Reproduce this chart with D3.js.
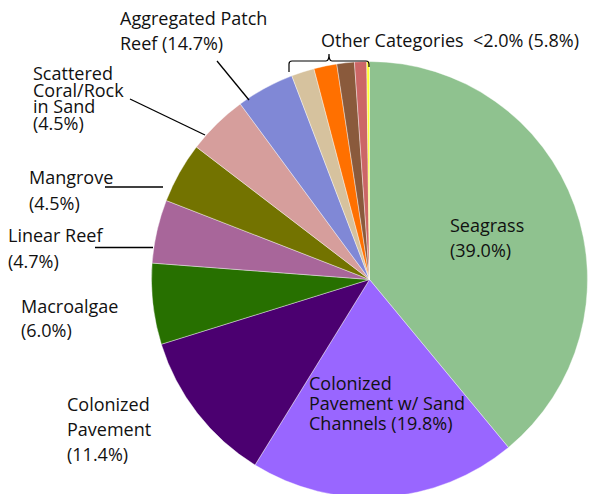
<!DOCTYPE html>
<html>
<head>
<meta charset="utf-8">
<script src="https://cdn.jsdelivr.net/npm/d3@7"></script>
<style>
  body { margin: 0; background: #fff; }
  svg { display: block; }
  text { font-family: "Open Sans", "Noto Sans", sans-serif; font-size: 18px; fill: #111; }
</style>
</head>
<body>
<svg id="chart" width="595" height="494"></svg>
<script>
// slices, clockwise from 12 o'clock
const categories = [
  "Seagrass", "Colonized Pavement w/ Sand Channels", "Colonized Pavement",
  "Macroalgae", "Linear Reef", "Mangrove", "Scattered Coral/Rock in Sand",
  "Aggregated Patch Reef", "Other 1", "Other 2", "Other 3", "Other 4", "Other 5"
];
const shares = [39.0, 19.8, 11.4, 6.0, 4.7, 4.5, 4.5, 4.3, 1.7, 1.7, 1.3, 0.9, 0.2];
const colors = [
  "#8fc28f", "#9966ff", "#4b0070", "#277000", "#a8669a", "#737300", "#d69e9c",
  "#8088d6", "#d6c29e", "#ff7000", "#8a5a3c", "#cc6666", "#ffff33"
];

// label text as printed on the chart
const labelLines = [
  ["Seagrass", "(39.0%)"],
  ["Colonized", "Pavement w/ Sand", "Channels (19.8%)"],
  ["Colonized", "Pavement", "(11.4%)"],
  ["Macroalgae", "(6.0%)"],
  ["Linear Reef", "(4.7%)"],
  ["Mangrove", "(4.5%)"],
  ["Scattered", "Coral/Rock", "in Sand", "(4.5%)"],
  ["Aggregated Patch", "Reef (14.7%)"]
];
const otherLabel = "Other Categories\u00a0 <2.0% (5.8%)";

const svg = d3.select("#chart");
const cx = 369.5, cy = 279.5, radius = 218;

const pie = d3.pie().sort(null).value(d => d);
const arc = d3.arc().innerRadius(0).outerRadius(radius);

const g = svg.append("g").attr("transform", `translate(${cx},${cy})`);
g.selectAll("path")
  .data(pie(shares))
  .join("path")
  .attr("d", arc)
  .attr("fill", (d, i) => colors[i])
  .attr("stroke", "#fff")
  .attr("stroke-width", 0.4);

// label placement (x, first baseline, line gap)
const labelPos = [
  [450, 232, 25],
  [309, 390, 20],
  [67, 411, 25],
  [21, 313, 24],
  [8, 242, 26],
  [29, 184, 26],
  [33, 80, 16.7],
  [120, 25, 25]
];

labelLines.forEach((lines, i) => {
  const [x, y, gap] = labelPos[i];
  const t = svg.append("text").attr("x", x).attr("y", y);
  lines.forEach((s, j) => {
    t.append("tspan").attr("x", x).attr("y", y + j * gap).text(s);
  });
});

svg.append("text").attr("x", 321).attr("y", 47).text(otherLabel);

// leader lines
const leaders = [
  [[217, 61], [249, 100]],
  [[130, 99], [205, 135]],
  [[105, 187], [163, 187]],
  [[95, 247.5], [153, 247.5]]
];
svg.selectAll("line.leader")
  .data(leaders)
  .join("line")
  .attr("class", "leader")
  .attr("x1", d => d[0][0]).attr("y1", d => d[0][1])
  .attr("x2", d => d[1][0]).attr("y2", d => d[1][1])
  .attr("stroke", "#000")
  .attr("stroke-width", 1.3);

// bracket over the small slices
svg.append("path")
  .attr("d", "M289,72 L289,64 Q289,61 292,61 L326,61 Q329,61 329,54 Q329,61 332,61 L366,61 Q369,61 369,64 L369,67")
  .attr("fill", "none")
  .attr("stroke", "#000")
  .attr("stroke-width", 1.2);
</script>
</body>
</html>
